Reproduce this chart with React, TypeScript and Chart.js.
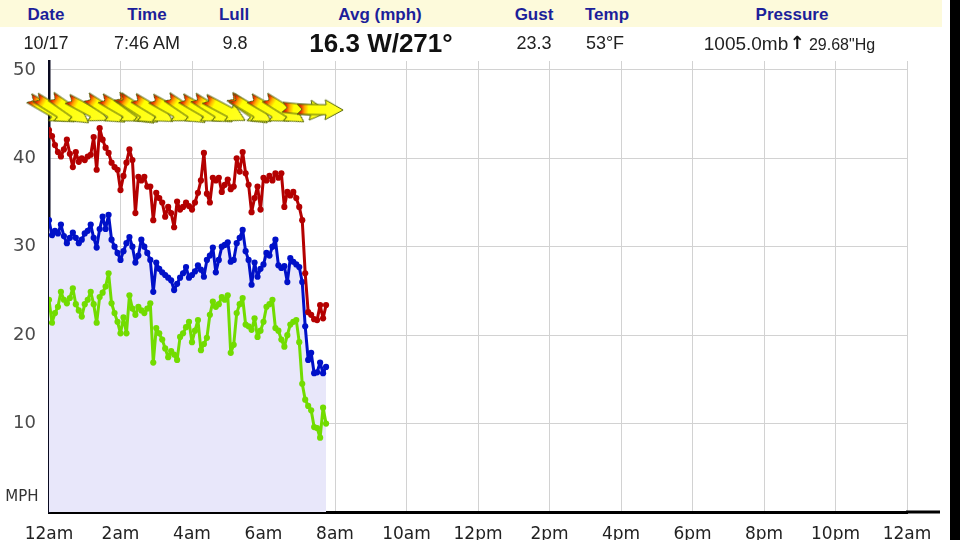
import React, { useEffect, useRef } from 'react';
import { Chart, registerables } from 'chart.js';

Chart.register(...registerables);

// ---------- DATA ----------
const minutes = [
  0, 5, 10, 15, 20, 25, 30, 35, 40, 45,
  50, 55, 60, 65, 70, 75, 80, 85, 90, 95,
  100, 105, 110, 115, 120, 125, 130, 135, 140, 145,
  150, 155, 160, 165, 170, 175, 180, 185, 190, 195,
  200, 205, 210, 215, 220, 225, 230, 235, 240, 245,
  250, 255, 260, 265, 270, 275, 280, 285, 290, 295,
  300, 305, 310, 315, 320, 325, 330, 335, 340, 345,
  350, 355, 360, 365, 370, 375, 380, 385, 390, 395,
  400, 405, 410, 415, 420, 425, 430, 435, 440, 445,
  450, 455, 460, 465,
];

const gust = [
  43.2, 42.5, 41.5, 40.7, 40.2, 41, 42.1, 40.5, 39, 40.7,
  39.6, 40, 39.8, 40.2, 40.4, 42.4, 38.7, 43.4, 42.1, 41.2,
  40.6, 39.5, 39, 38.7, 36.4, 38, 39.5, 41, 39.8, 33.8,
  37.9, 37.5, 37.9, 36.8, 36.8, 33, 36.1, 35.5, 35, 33.4,
  34.5, 33.8, 32.2, 35.1, 34.2, 34.5, 35, 34.6, 34.2, 35,
  36.1, 37.5, 40.6, 36, 35, 37.8, 37.5, 37.8, 36.2, 37,
  37.6, 36.5, 36.8, 40, 38.5, 40.7, 38.3, 37, 33.9, 35.5,
  36.8, 34.2, 37.8, 37.5, 38, 37.5, 38.3, 37.8, 38.3, 34.5,
  36.2, 35.8, 36.2, 35.5, 34.5, 33, 27, 22.6, 22.3, 21.8,
  21.7, 23.4, 21.9, 23.4,
];

const avg = [
  33, 31.3, 31.8, 31.5, 32.5, 31.2, 30.4, 31, 31.6, 31,
  30.4, 30.8, 31.5, 31.8, 32.5, 31, 29.9, 32, 33.4, 32,
  33.6, 30.8, 30, 29.3, 28.5, 29.5, 30.4, 31.1, 30, 28.2,
  29, 30.8, 30, 29.3, 28.5, 24.9, 28.2, 27.5, 27.1, 26.8,
  26.5, 26.2, 25.1, 25.8, 26.5, 27, 27.7, 26.5, 26.8, 27.2,
  27.9, 27.4, 26.6, 28.5, 29, 29.9, 27.1, 28.5, 30, 30.2,
  30.5, 28.3, 28.5, 30.4, 31, 31.9, 29.5, 28.5, 25.7, 28.2,
  26.6, 27.5, 28, 29.3, 29, 30, 30.8, 27.9, 27.6, 27.8,
  26, 28.7, 28.3, 28, 27.7, 26, 21, 17.2, 18, 15.7,
  15.8, 16.9, 15.7, 16.4,
];

const lull = [
  24, 21.4, 22.5, 23.2, 24.9, 24, 23.6, 24.2, 25.3, 23.5,
  22.8, 22.1, 23.5, 24, 24.9, 23.5, 21.4, 24.3, 24.8, 25.5,
  27, 23.6, 22.5, 21.5, 20.2, 22, 20.2, 24.5, 23, 22.3,
  23.2, 22.8, 22.5, 23, 23.6, 16.9, 20.8, 20.2, 19.5, 18.5,
  17.5, 18.2, 17.8, 17.2, 19.8, 20.2, 20.9, 21.5, 19.2, 20.5,
  21.7, 18.3, 19, 19.7, 22.3, 23.8, 23.2, 23.5, 24.3, 24,
  24.5, 18, 18.9, 22.5, 23.5, 24.2, 21.2, 21, 20.6, 21.9,
  19.8, 20.5, 21.5, 23.2, 23.5, 24, 20.8, 20.5, 19.5, 18.7,
  20, 21.2, 21.5, 21.7, 19.2, 14.5, 12.7, 12, 11.5, 9.6,
  9.5, 8.4, 11.8, 10,
];

const arrowMinutes = [0, 10, 35, 65, 95, 120, 145, 150, 175, 205, 230, 255, 275, 295, 335, 340, 370, 395, 430, 455];
const arrowDirections = [300, 302, 305, 298, 303, 300, 306, 303, 301, 299, 304, 300, 302, 298, 305, 301, 300, 302, 276, 271];

const xTickLabels = ['12am', '2am', '4am', '6am', '8am', '10am', '12pm', '2pm', '4pm', '6pm', '8pm', '10pm', '12am'];
const yTickValues = [0, 10, 20, 30, 40, 50];

const headerLabels = ['Date', 'Time', 'Lull', 'Avg (mph)', 'Gust', 'Temp', 'Pressure'];
const headerValues = ['10/17', '7:46 AM', '9.8', '16.3 W/271°', '23.3', '53°F'];
const pressureParts = ['1005.0mb', '↑', '29.68"Hg'];

// ---------- STYLE ----------
const labelCenters = [46, 147, 234, 380, 534, 607, 792];
const valueCenters = [46, 147, 235, 381, 534, 605];

function makeArrow(): HTMLCanvasElement {
  const c = document.createElement('canvas');
  c.width = 48;
  c.height = 22;
  const g = c.getContext('2d') as CanvasRenderingContext2D;
  const grad = g.createLinearGradient(0, 0, 48, 0);
  grad.addColorStop(0, '#c80000');
  grad.addColorStop(0.1, '#ee3000');
  grad.addColorStop(0.18, '#ffb000');
  grad.addColorStop(0.26, '#ffff00');
  grad.addColorStop(1, '#ffff28');
  g.beginPath();
  g.moveTo(1, 6);
  g.lineTo(30, 6);
  g.lineTo(29, 1);
  g.lineTo(47, 11);
  g.lineTo(29, 21);
  g.lineTo(30, 16);
  g.lineTo(1, 16);
  g.lineTo(6, 11);
  g.closePath();
  g.fillStyle = grad;
  g.fill();
  g.strokeStyle = '#55650c';
  g.lineWidth = 1;
  g.stroke();
  return c;
}

const extrasPlugin = {
  id: 'extras',
  afterDraw(chart: any) {
    const { ctx, chartArea } = chart;
    const yScale = chart.scales.y;
    ctx.save();
    ctx.strokeStyle = '#000';
    ctx.lineWidth = 3;
    ctx.beginPath();
    ctx.moveTo(chartArea.right - 1, yScale.getPixelForValue(0));
    ctx.lineTo(940, yScale.getPixelForValue(0));
    ctx.stroke();
    ctx.fillStyle = '#333';
    ctx.font = '15px "DejaVu Sans"';
    ctx.textAlign = 'center';
    ctx.textBaseline = 'middle';
    ctx.fillText('MPH', 22, yScale.getPixelForValue(0) - 15);
    ctx.restore();
  },
};

export default function App() {
  const canvasRef = useRef<HTMLCanvasElement | null>(null);

  useEffect(() => {
    const canvas = canvasRef.current;
    if (!canvas) return;
    const arrow = makeArrow();
    const arrowLevel = 45.5;
    const pts = (vals: number[]) => minutes.map((m, i) => ({ x: m, y: vals[i] }));
    const lineStyle = (color: string) => ({
      borderColor: color,
      borderWidth: 3,
      borderJoinStyle: 'round' as const,
      borderCapStyle: 'round' as const,
      pointRadius: 3.1,
      pointBorderWidth: 0,
      pointBackgroundColor: color,
    });

    const chart = new Chart(canvas, {
      type: 'line',
      data: {
        datasets: [
          {
            label: 'Direction',
            data: arrowMinutes.map((m) => ({ x: m, y: arrowLevel })),
            showLine: false,
            pointStyle: arrow as any,
            pointRadius: 12,
            pointRotation: arrowDirections.map((d) => d - 270),
            clip: false as any,
          },
          {
            label: 'Gust',
            data: pts(gust),
            ...lineStyle('#b40000'),
            backgroundColor: '#b40000',
            fill: false,
          },
          {
            label: 'Avg',
            data: pts(avg),
            ...lineStyle('#0010c8'),
            backgroundColor: '#e8e7fa',
            fill: 'origin',
          },
          {
            label: 'Lull',
            data: pts(lull),
            ...lineStyle('#72dc00'),
            backgroundColor: '#72dc00',
            fill: false,
          },
        ],
      },
      options: {
        animation: false,
        responsive: false,
        devicePixelRatio: 1,
        layout: { padding: { top: 61, right: 53, left: 0, bottom: 0 } },
        plugins: {
          legend: { display: false },
          tooltip: { enabled: false },
          filler: { drawTime: 'beforeDatasetsDraw' } as any,
        },
        elements: { line: { tension: 0 } },
        scales: {
          x: {
            type: 'linear',
            min: 0,
            max: 1440,
            afterFit: (s: any) => {
              s.height = 28;
            },
            afterBuildTicks: (s: any) => {
              s.ticks = xTickLabels.map((_, i) => ({ value: i * 120 }));
            },
            ticks: {
              autoSkip: false,
              maxRotation: 0,
              padding: 12,
              color: '#222',
              font: { family: 'DejaVu Sans', size: 17 },
              callback: (v: any) => xTickLabels[Math.round(Number(v) / 120)] ?? '',
            },
            grid: { color: '#d2d2d2', lineWidth: 1, drawTicks: false },
            border: { color: '#000', width: 3 },
          },
          y: {
            type: 'linear',
            min: 0,
            max: 51,
            afterFit: (s: any) => {
              s.width = 49;
            },
            afterBuildTicks: (s: any) => {
              s.ticks = yTickValues.map((v) => ({ value: v }));
            },
            ticks: {
              padding: 13,
              color: '#4a4a4a',
              font: { family: 'DejaVu Sans', size: 18 },
              callback: (v: any) => (Number(v) === 0 ? '' : String(v)),
            },
            grid: { color: '#d2d2d2', lineWidth: 1, drawTicks: false },
            border: { color: '#0a0a20', width: 2.5 },
          },
        },
      },
      plugins: [extrasPlugin],
    });
    return () => chart.destroy();
  }, []);

  const cellBase: React.CSSProperties = {
    position: 'absolute',
    transform: 'translate(-50%, -50%)',
    whiteSpace: 'nowrap',
    fontFamily: '"Liberation Sans", Arial, sans-serif',
    lineHeight: 1,
  };

  return (
    <div
      style={{
        position: 'fixed',
        left: 0,
        top: 0,
        width: 960,
        height: 540,
        background: '#fff',
        overflow: 'hidden',
      }}
    >
      <canvas
        ref={canvasRef}
        width={960}
        height={540}
        style={{ position: 'absolute', left: 0, top: 0, width: 960, height: 540, display: 'block' }}
      />
      <div style={{ position: 'absolute', left: 0, top: 0, width: 942, height: 27, background: '#fdfadb' }} />
      {headerLabels.map((t, i) => (
        <div
          key={'l' + i}
          style={{ ...cellBase, left: labelCenters[i], top: 14, fontWeight: 'bold', fontSize: 17, color: '#1c1f9a' }}
        >
          {t}
        </div>
      ))}
      {headerValues.map((t, i) => (
        <div
          key={'v' + i}
          style={{
            ...cellBase,
            left: valueCenters[i],
            top: 43,
            fontSize: i === 3 ? 26 : 18,
            fontWeight: i === 3 ? 'bold' : 'normal',
            color: i === 3 ? '#111' : '#222',
          }}
        >
          {t}
        </div>
      ))}
      <div style={{ ...cellBase, left: 746, top: 43, fontSize: 19, color: '#222' }}>{pressureParts[0]}</div>
      <div
        style={{
          ...cellBase,
          left: 797,
          top: 43,
          fontSize: 18,
          fontWeight: 'bold',
          fontFamily: '"DejaVu Sans", sans-serif',
          color: '#111',
        }}
      >
        {pressureParts[1]}
      </div>
      <div style={{ ...cellBase, left: 842, top: 45, fontSize: 16, color: '#222' }}>{pressureParts[2]}</div>
      <div style={{ position: 'absolute', left: 950, top: 0, width: 10, height: 540, background: '#000' }} />
    </div>
  );
}
